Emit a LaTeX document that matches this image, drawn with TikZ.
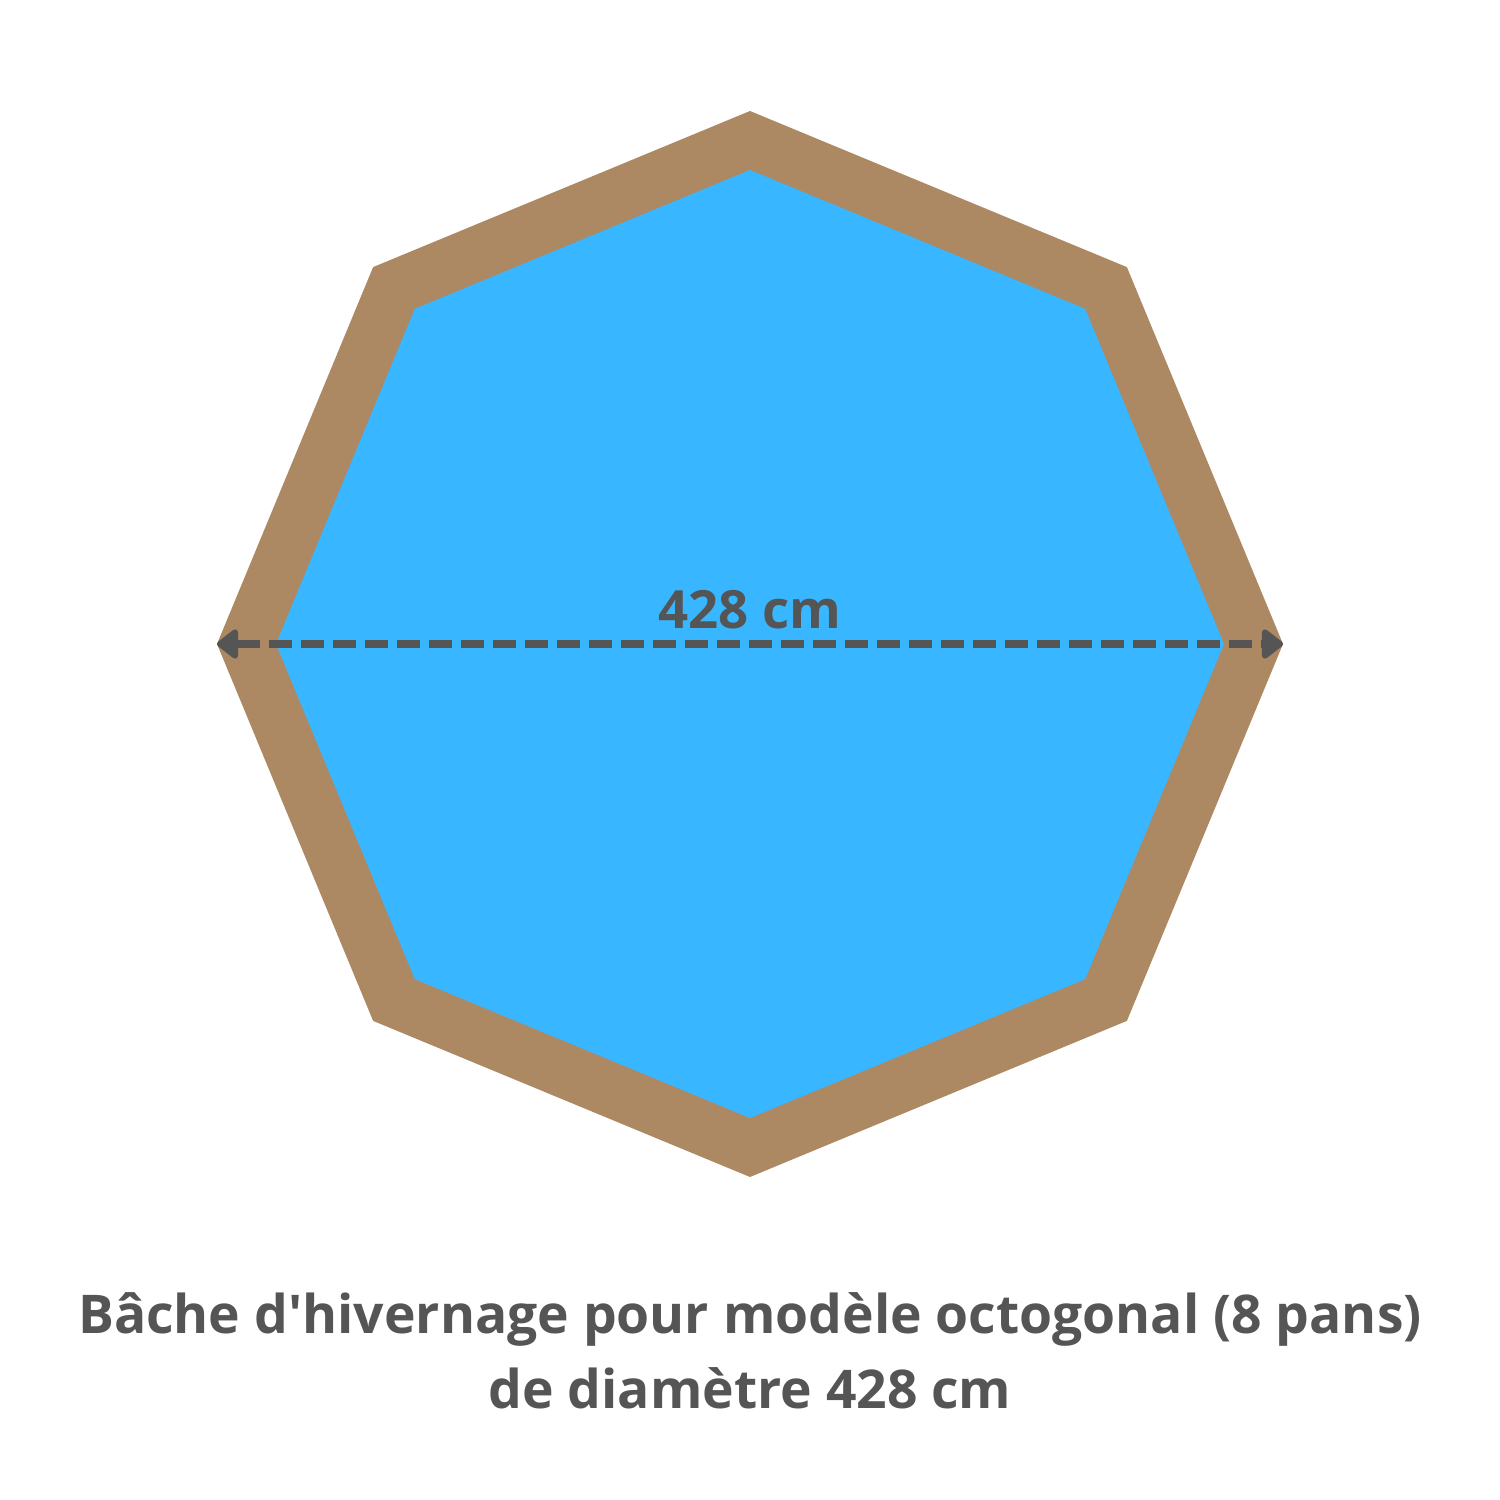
\documentclass[tikz,border=0pt]{standalone}
\usepackage{fontspec}
\setmainfont{Open Sans}
\usetikzlibrary{arrows.meta}
\definecolor{bois}{HTML}{AD8963}
\definecolor{eau}{HTML}{38B6FF}
\definecolor{encre}{HTML}{555555}
\begin{document}
\begin{tikzpicture}
    \useasboundingbox (0,0) rectangle (15,15);
    \begin{scope}[shift={(7.5,8.56)}]
        \fill [bois] (90:5.33) \foreach \a in {135,180,...,405} {-- (\a:5.33)} -- cycle;
        \fill [eau] (90:4.74) \foreach \a in {135,180,...,405} {-- (\a:4.74)} -- cycle;
        \coordinate (gauche) at (180:5.33);
        \coordinate (droite) at (0:5.33);
    \end{scope}
    \draw [encre, line width=2.4pt, dash pattern=on 0.23cm off 0.09cm,
        {Triangle[round,length=2.3mm,width=3.4mm]}-{Triangle[round,length=2.3mm,width=3.4mm]}]
        (gauche) -- (droite);
    \node [encre, font=\bfseries\fontsize{15}{18}\selectfont] (mesure) at (7.5,8.90) {428 cm};
    \node [encre, align=center, font=\bfseries\fontsize{15.2}{21.3}\selectfont] (legende) at (7.5,1.49)
        {Bâche d\textquotesingle hivernage pour modèle octogonal (8 pans)\\de diamètre 428 cm};
\end{tikzpicture}
\end{document}
